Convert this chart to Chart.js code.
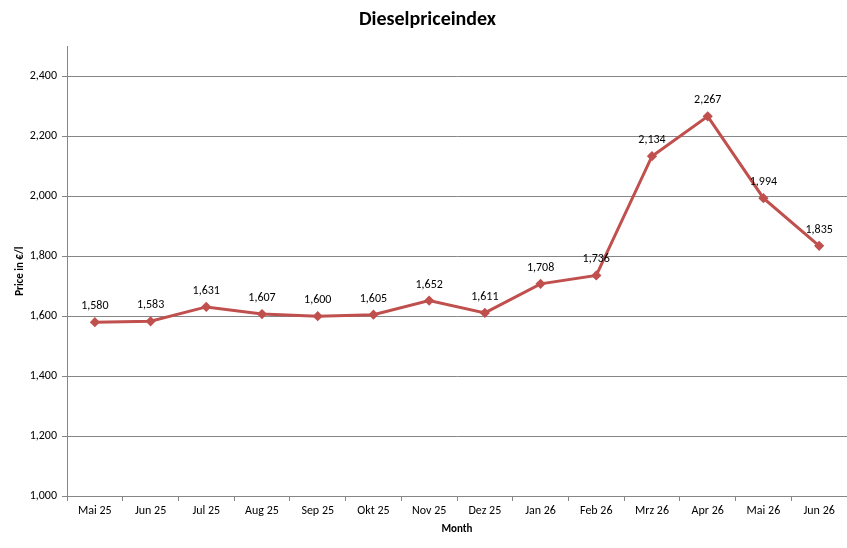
<!DOCTYPE html>
<html>
<head>
<meta charset="utf-8">
<script src="https://cdn.jsdelivr.net/npm/chart.js@4/dist/chart.umd.min.js"></script>
<style>
html,body{margin:0;padding:0;background:#fff;}
#wrap{width:847px;height:548px;position:relative;}
</style>
</head>
<body>
<div id="wrap"><canvas id="c" width="847" height="548"></canvas></div>
<script>
const months = ["Mai 25","Jun 25","Jul 25","Aug 25","Sep 25","Okt 25","Nov 25","Dez 25","Jan 26","Feb 26","Mrz 26","Apr 26","Mai 26","Jun 26"];
const prices = [1.580,1.583,1.631,1.607,1.600,1.605,1.652,1.611,1.708,1.736,2.134,2.267,1.994,1.835];
const yMin = 1.0, yMax = 2.5, yStep = 0.2;

const FONT = "Carlito, Calibri, 'Liberation Sans', Arial, sans-serif";
const fmt = v => v.toFixed(3).replace('.', ',');

const labelPlugin = {
  id: 'pointLabels',
  afterDatasetsDraw(chart) {
    const ctx = chart.ctx;
    const meta = chart.getDatasetMeta(0);
    ctx.save();
    ctx.font = "12px " + FONT;
    ctx.fillStyle = "#000";
    ctx.textAlign = "center";
    ctx.textBaseline = "middle";
    meta.data.forEach((pt, i) => {
      ctx.fillText(fmt(prices[i]), pt.x, pt.y - 16);
    });
    ctx.restore();
  }
};

new Chart(document.getElementById('c'), {
  type: 'line',
  data: {
    labels: months,
    datasets: [{
      data: prices,
      borderColor: '#C0504D',
      backgroundColor: '#C0504D',
      borderWidth: 3,
      pointStyle: 'rectRot',
      pointRadius: 3,
      pointHoverRadius: 3,
      tension: 0
    }]
  },
  options: {
    responsive: false,
    animation: false,
    devicePixelRatio: 1,
    layout: { autoPadding: false, padding: { left: 8, right: 0, top: 0, bottom: 3 } },
    plugins: {
      legend: { display: false },
      tooltip: { enabled: false },
      title: {
        display: true,
        text: 'Dieselpriceindex',
        color: '#000',
        font: { family: FONT, size: 20, weight: 'bold' },
        padding: { top: 7.5, bottom: 15 }
      }
    },
    scales: {
      x: {
        offset: true,
        grid: { offset: true, drawOnChartArea: false, drawTicks: true, tickLength: 5, color: '#868686' },
        border: { display: true, color: '#868686', width: 1 },
        ticks: { color: '#000', font: { family: FONT, size: 12 }, padding: 3, maxRotation: 0, autoSkip: false },
        title: { display: true, text: 'Month', color: '#000', font: { family: FONT, size: 11, weight: 'bold' }, padding: { top: 2, bottom: 9 } },
        afterFit(s) { s.height = 49; s.paddingLeft = 0; s.paddingRight = 0; }
      },
      y: {
        min: yMin, max: yMax,
        grid: { color: '#868686', drawTicks: true, tickLength: 5 },
        border: { display: true, color: '#868686', width: 1 },
        ticks: {
          stepSize: yStep, includeBounds: false,
          color: '#000', font: { family: FONT, size: 12 }, padding: 5,
          callback: v => fmt(v)
        },
        title: { display: true, text: 'Price in €/l', color: '#000', font: { family: FONT, size: 11, weight: 'bold' }, padding: { top: 6, bottom: 4 } },
        afterFit(s) { s.width = 59; }
      }
    }
  },
  plugins: [labelPlugin]
});
</script>
</body>
</html>
